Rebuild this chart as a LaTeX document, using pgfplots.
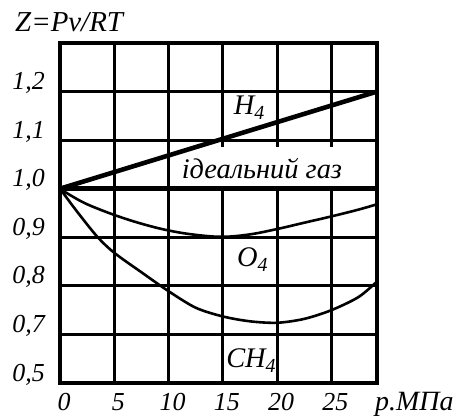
\documentclass[border=0pt]{standalone}
\usepackage{fontspec}
\setmainfont{Liberation Serif}
\usepackage{pgfplots}
\pgfplotsset{compat=1.18}

\newcommand{\tickit}{\fontsize{26}{30}\selectfont\itshape}
\newcommand{\labit}{\fontsize{28.5}{32}\selectfont\itshape}

\begin{document}
\begin{tikzpicture}
% fixed page frame around the axis box
\useasboundingbox (-60bp,-36bp) rectangle (399bp,383bp);
\begin{axis}[
  scale only axis,
  width=317bp, height=340bp,
  xmin=0, xmax=29.2,
  ymin=0.6, ymax=1.3,
  xtick={0,5,10,15,20,25},
  xticklabels={0,5,10,15,20,25},
  ytick={0.6,0.7,0.8,0.9,1.0,1.1,1.2},
  yticklabels={{0,5},{0,7},{0,8},{0,9},{1,0},{1,1},{1,2}},
  major tick length=0pt,
  tick label style={font=\tickit},
  xticklabel style={anchor=base, inner sep=0pt, yshift=-27bp, xshift=4bp},
  yticklabel style={anchor=base east, inner sep=0pt, xshift=-15bp, yshift=2bp},
  grid=major,
  major grid style={black, line width=3bp},
  axis line style={black, line width=3.2bp},
  clip=false,
]
% white ground behind the ideal-gas caption
\fill[white] (axis cs:10.8,1.004) rectangle (axis cs:28.9,1.086);

% O4
\addplot[black, line width=2.6bp, smooth, tension=0.6] coordinates {
  (0,1.000) (1,0.986) (2.5,0.968) (5,0.946) (7.5,0.928) (10,0.914)
  (12.5,0.905) (15,0.901) (17.5,0.906) (20,0.917) (22.5,0.930)
  (25,0.943) (27.5,0.957) (29.2,0.968)
};
% CH4
\addplot[black, line width=2.6bp, smooth, tension=0.5] coordinates {
  (0,1.000) (1.5,0.955) (3.4,0.902) (5,0.868) (7.5,0.828) (10,0.789)
  (12.5,0.755) (15,0.737) (17.5,0.727) (20,0.724) (22.5,0.732)
  (25,0.750) (27.5,0.777) (29.2,0.809)
};
% ideal gas
\addplot[black, line width=4.6bp] coordinates {(0,1.0) (29.2,1.0)};
% H4
\addplot[black, line width=4.6bp] coordinates {(0,1.0) (29.2,1.2)};

\node[anchor=base west, inner sep=0pt, font=\labit] at (axis cs:11.2,1.022) {ідеальний газ};
\node[anchor=base west, inner sep=0pt, font=\labit] at (axis cs:16.0,1.152) {H\textsubscript{4}};
\node[anchor=base west, inner sep=0pt, font=\labit] at (axis cs:16.3,0.839) {O\textsubscript{4}};
\node[anchor=base west, inner sep=0pt, font=\labit] at (axis cs:15.3,0.631) {CH\textsubscript{4}};

\node[anchor=base west, inner sep=0pt, font=\fontsize{29}{32}\selectfont\itshape,
  xshift=-45bp, yshift=11bp] at (rel axis cs:0,1) {Z=Pv/RT};
\node[anchor=base west, inner sep=0pt, font=\fontsize{28}{32}\selectfont\itshape,
  xshift=-2bp, yshift=-27bp] at (rel axis cs:1,0) {p.МПа};
\end{axis}
\end{tikzpicture}
\end{document}
